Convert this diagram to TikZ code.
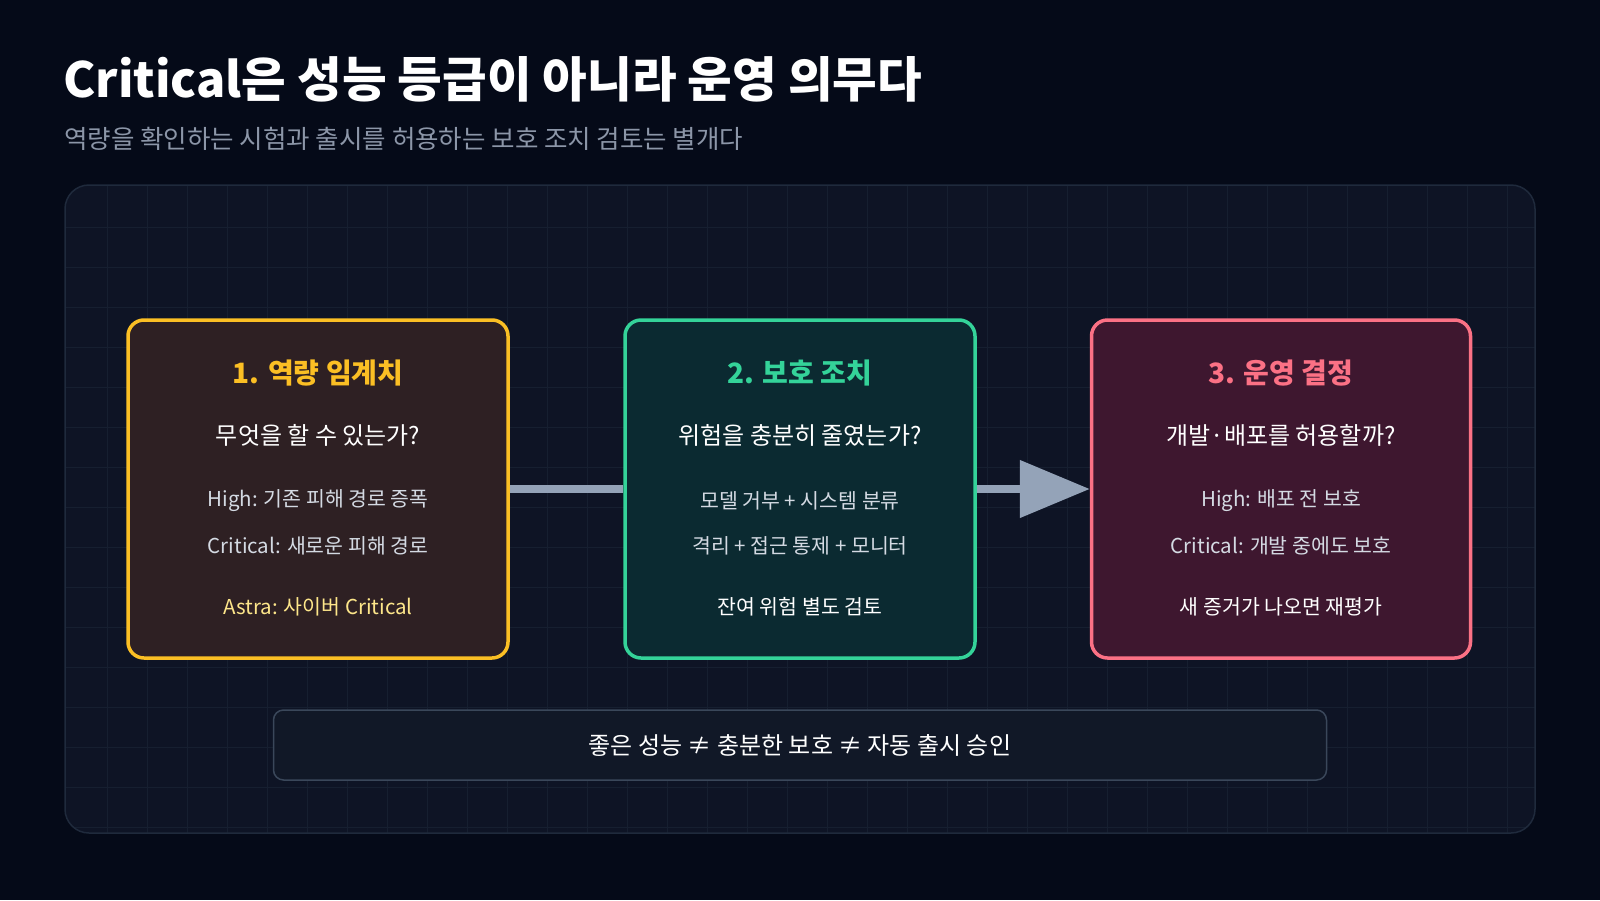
\documentclass[tikz,border=0pt]{standalone}
\usepackage{fontspec}
\setmainfont{Noto Sans CJK KR}
\usetikzlibrary{arrows.meta}
\usetikzlibrary{positioning}
\definecolor{bgdark}{HTML}{050A18}
\definecolor{panelbg}{HTML}{0E1425}
\definecolor{panelline}{HTML}{1F2A3C}
\definecolor{gridline}{HTML}{161F30}
\definecolor{subgray}{HTML}{8C96A8}
\definecolor{linkgray}{HTML}{94A3B8}
\definecolor{amber}{HTML}{FBBF24}
\definecolor{amberbg}{HTML}{2E2023}
\definecolor{amberpale}{HTML}{FDE68A}
\definecolor{mint}{HTML}{34D399}
\definecolor{mintbg}{HTML}{0B2A31}
\definecolor{rose}{HTML}{FB7185}
\definecolor{rosebg}{HTML}{3E172F}
\definecolor{notebg}{HTML}{111827}
\definecolor{noteline}{HTML}{3A475A}
\definecolor{bodytext}{HTML}{D4DAE3}
\tikzset{
    stage/.style={
        draw,
        rounded corners=16pt,
        line width=3.5pt,
        minimum height=338pt
    },
    heading/.style={font=\fontsize{28}{32}\selectfont\bfseries},
    question/.style={font=\fontsize{24}{28}\selectfont, text=white},
    detail/.style={font=\fontsize{20.5}{24}\selectfont, text=bodytext},
    link/.style={draw=linkgray, line width=8pt}
}
\begin{document}
\begin{tikzpicture}[x=1pt,y=-1pt]
    % Background and panel
    \fill[bgdark] (0,0) rectangle (1600,900);
    \useasboundingbox (0,0) rectangle (1600,900);
    \fill[panelbg, rounded corners=24pt] (65,185) rectangle (1535,833);
    \begin{scope}
        \clip[rounded corners=24pt] (65,185) rectangle (1535,833);
        \foreach \x in {107,147,...,1535} \draw[gridline, line width=1pt] (\x,185) -- (\x,833);
        \foreach \y in {227,267,...,833} \draw[gridline, line width=1pt] (65,\y) -- (1535,\y);
    \end{scope}
    \draw[panelline, line width=1.5pt, rounded corners=24pt] (65,185) rectangle (1535,833);

    % Title
    \node[anchor=base west, text=white, font=\fontsize{48.5}{54}\selectfont\bfseries, inner sep=0] (title) at (63,97) {Critical은 성능 등급이 아니라 운영 의무다};
    \node[anchor=base west, text=subgray, font=\fontsize{25.5}{30}\selectfont, inner sep=0] (subtitle) at (64,148) {역량을 확인하는 시험과 출시를 허용하는 보호 조치 검토는 별개다};

    % Stages
    \node[stage, draw=amber, fill=amberbg, minimum width=380pt] (capa) at (318,489) {};
    \node[stage, draw=mint, fill=mintbg, minimum width=350pt] (guard) at (800,489) {};
    \node[stage, draw=rose, fill=rosebg, minimum width=379pt] (decide) at (1281,489) {};

    % Stage texts
    \node[heading, text=amber] (capa-h) at (318,373) {1. 역량 임계치};
    \node[question] (capa-q) at (318,435) {무엇을 할 수 있는가?};
    \node[detail] (capa-a) at (318,501) {High: 기존 피해 경로 증폭};
    \node[detail] (capa-b) at (318,546) {Critical: 새로운 피해 경로};
    \node[detail, text=amberpale] (capa-n) at (318,607) {Astra: 사이버 Critical};

    \node[heading, text=mint] (guard-h) at (800,373) {2. 보호 조치};
    \node[question] (guard-q) at (800,435) {위험을 충분히 줄였는가?};
    \node[detail] (guard-a) at (800,501) {모델 거부 + 시스템 분류};
    \node[detail] (guard-b) at (800,546) {격리 + 접근 통제 + 모니터};
    \node[detail, text=white] (guard-n) at (800,607) {잔여 위험 별도 검토};

    \node[heading, text=rose] (decide-h) at (1281,373) {3. 운영 결정};
    \node[question] (decide-q) at (1281,435) {개발·배포를 허용할까?};
    \node[detail] (decide-a) at (1281,501) {High: 배포 전 보호};
    \node[detail] (decide-b) at (1281,546) {Critical: 개발 중에도 보호};
    \node[detail, text=white] (decide-n) at (1281,607) {새 증거가 나오면 재평가};

    % Connectors
    \draw[link] (capa.east) -- (guard.west);
    \draw[link, -{Triangle[length=70pt 0, width=56pt 0]}] (guard.east) -- (decide.west);

    % Bottom note
    \node[draw=noteline, fill=notebg, line width=1.5pt, rounded corners=10pt,
          minimum width=1053pt, minimum height=70pt, text=white,
          font=\fontsize{24}{28}\selectfont] (note) at (800,745) {좋은 성능 ≠ 충분한 보호 ≠ 자동 출시 승인};
\end{tikzpicture}
\end{document}
